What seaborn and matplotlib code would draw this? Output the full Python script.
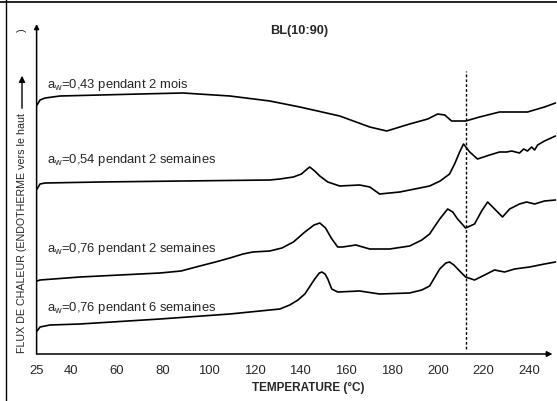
import numpy as np
import pandas as pd
import matplotlib
matplotlib.use("Agg")
import matplotlib.pyplot as plt
import seaborn as sns
from matplotlib.lines import Line2D
from matplotlib.patches import FancyArrowPatch

# ---- data (flux in arbitrary units) ----
t_043 = [25.2, 26.5, 28.7, 35.2, 52.6, 70.1, 88.8, 109.3, 126.7, 139.8, 157.2,
         170.3, 177.7, 187.7, 195.6, 199.9, 203.0, 206.0, 212.1, 218.2, 226.9,
         239.1, 246.5, 251.3]
f_043 = [24.9, 25.4, 25.6, 25.8, 25.9, 26.0, 26.1, 25.8, 25.3, 24.7, 23.8,
         22.7, 22.3, 23.0, 23.5, 24.0, 23.9, 23.3, 23.3, 23.7, 24.2,
         24.2, 24.7, 25.1]

t_054 = [25.2, 26.5, 28.7, 52.6, 88.8, 126.7, 131.1, 137.0, 140.5, 142.5, 144.1,
         146.3, 148.5, 152.0, 157.2, 165.9, 170.3, 174.6, 183.4, 192.1, 196.4,
         201.0, 205.1, 207.3, 209.5, 211.2, 213.9, 217.3, 222.6, 226.9, 230.0,
         232.2, 235.6, 237.4, 239.1, 240.9, 242.2, 243.5, 246.5, 251.3]
f_054 = [16.5, 17.0, 17.1, 17.2, 17.3, 17.4, 17.5, 17.7, 18.0, 18.4, 18.7,
         18.3, 17.8, 17.2, 16.8, 16.9, 16.7, 16.0, 16.2, 16.6, 16.8,
         17.3, 18.0, 19.0, 20.2, 21.0, 20.2, 19.5, 19.9, 20.2, 20.2,
         20.3, 20.1, 20.5, 20.3, 20.7, 20.4, 20.9, 21.3, 21.8]

t_076a = [25.2, 26.5, 43.9, 78.8, 88.0, 96.2, 103.0, 109.3, 115.0, 119.3, 126.7,
          132.0, 137.0, 142.0, 146.0, 148.5, 151.0, 153.5, 156.3, 158.5, 164.2,
          170.3, 179.0, 187.7, 193.0, 196.4, 200.8, 204.3, 206.5, 208.6, 212.1,
          216.0, 219.1, 221.7, 223.9, 228.2, 231.3, 235.6, 238.7, 242.2, 246.5,
          251.3]
f_076a = [7.3, 7.4, 7.7, 8.1, 8.3, 8.8, 9.2, 9.6, 10.0, 10.2, 10.3,
          10.6, 11.2, 12.2, 12.9, 13.1, 12.6, 11.6, 10.7, 10.7, 10.9,
          10.5, 10.5, 10.8, 11.4, 12.0, 13.5, 14.5, 14.2, 13.5, 12.6,
          13.0, 14.3, 15.2, 14.7, 13.7, 14.5, 15.0, 15.2, 15.0, 15.3,
          15.4]

t_076b = [25.2, 26.5, 30.8, 43.9, 78.8, 109.3, 131.1, 135.4, 139.0, 142.0,
          146.3, 148.3, 149.4, 150.8, 152.0, 153.7, 156.3, 165.9, 174.6, 187.7,
          193.0, 196.4, 200.8, 203.5, 205.1, 207.0, 209.5, 212.1, 216.0, 220.4,
          224.7, 229.1, 233.5, 240.0, 246.5, 251.3]
f_076b = [2.3, 2.7, 2.9, 3.0, 3.5, 4.0, 4.5, 4.9, 5.4, 6.0,
          7.5, 8.1, 8.2, 8.0, 7.5, 6.5, 6.2, 6.3, 6.0, 6.1,
          6.4, 6.8, 8.5, 9.1, 9.2, 8.9, 8.3, 7.7, 7.4, 7.9,
          8.4, 8.2, 8.5, 8.7, 9.0, 9.2]

labels = ["a$_w$=0,43 pendant 2 mois",
          "a$_w$=0,54 pendant 2 semaines",
          "a$_w$=0,76 pendant 2 semaines",
          "a$_w$=0,76 pendant 6 semaines"]
series_t = [t_043, t_054, t_076a, t_076b]
series_f = [f_043, f_054, f_076a, f_076b]
label_offset = [1.2, 2.3, 2.5, 1.7]

x_ticks = [25, 40, 60, 80, 100, 120, 140, 160, 180, 200, 220, 240]
t_mark = 212.1   # dashed reference line

df = pd.concat([pd.DataFrame({"T": t, "flux": f, "serie": lab})
                for t, f, lab in zip(series_t, series_f, labels)])

sns.set_style("white")
plt.rcParams["font.family"] = ["Liberation Sans", "DejaVu Sans"]
plt.rcParams["mathtext.default"] = "regular"

W, H = 557, 402
fig = plt.figure(figsize=(W / 100, H / 100), dpi=100)
ax = fig.add_axes([36.6 / W, 1 - 355 / H, (552.5 - 36.6) / W, (355 - 25) / H])

sns.lineplot(data=df, x="T", y="flux", units="serie", estimator=None,
             sort=False, color="black", lw=1.2, ax=ax, clip_on=False)

ax.vlines(t_mark, 0.5, 28.3, colors="black", lw=1.0, linestyles=(0, (2, 1.5)))

for lab, f, off in zip(labels, series_f, label_offset):
    ax.text(29.5, f[3] + off, lab, fontsize=9.4, ha="left", va="center")

ax.set_xlim(25, 250)
ax.set_ylim(0, 33)
ax.set_xticks(x_ticks)
ax.set_xticklabels([str(v) for v in x_ticks], fontsize=9.4)
ax.set_yticks([])
ax.set_xlabel("")
ax.set_ylabel("")
ax.tick_params(axis="x", direction="inout", length=6, width=1, pad=4)
for s in ["top", "right", "left", "bottom"]:
    ax.spines[s].set_visible(False)

# axes with arrowheads
ax.annotate("", xy=(1.0, 0), xytext=(0, 0), xycoords="axes fraction",
            arrowprops=dict(arrowstyle="-|>", color="black", lw=1.1,
                            mutation_scale=8, shrinkA=0, shrinkB=0))
ax.annotate("", xy=(0, 1.0), xytext=(0, 0), xycoords="axes fraction",
            arrowprops=dict(arrowstyle="-|>", color="black", lw=1.1,
                            mutation_scale=7, shrinkA=0, shrinkB=0))

fig.text(299 / W, 1 - 31 / H, "BL(10:90)", fontsize=9.2, fontweight="bold",
         ha="center", va="center")
fig.text(308 / W, 1 - 388 / H, "TEMPERATURE (°C)", fontsize=8.5,
         fontweight="bold", ha="center", va="center")

fig.text(22 / W, 1 - 353 / H, "FLUX DE CHALEUR (ENDOTHERME vers le haut",
         fontsize=7.7, rotation=90, ha="center", va="bottom")
fig.add_artist(FancyArrowPatch((22 / W, 1 - 112 / H), (22 / W, 1 - 74 / H),
                               transform=fig.transFigure, arrowstyle="-|>",
                               mutation_scale=9, color="black", lw=1.0))
fig.text(22 / W, 1 - 30 / H, ")", fontsize=7.7, rotation=90,
         ha="center", va="center")

# scanned page frame
fig.add_artist(Line2D([6 / W, 6 / W], [0, 1], transform=fig.transFigure,
                      color="black", lw=1.0))
fig.add_artist(Line2D([0, 1], [1 - 3 / H, 1 - 3 / H], transform=fig.transFigure,
                      color="black", lw=1.2))

fig.savefig("out.png", dpi=100)
